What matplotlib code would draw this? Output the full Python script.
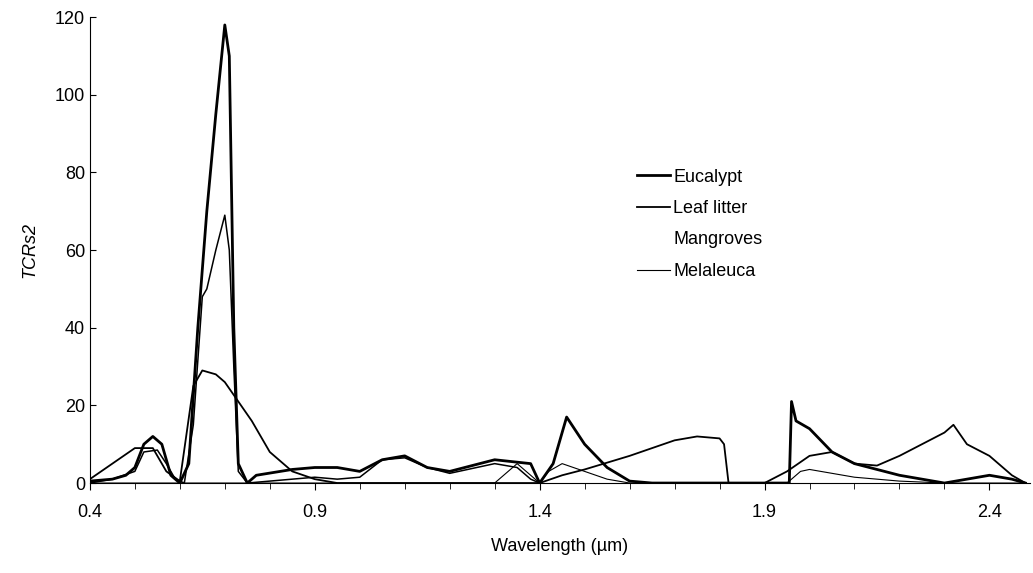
import numpy as np
import matplotlib.pyplot as plt
from matplotlib.lines import Line2D

plt.rcParams['font.family'] = ['Liberation Sans', 'DejaVu Sans']

euc_x = [0.4, 0.45, 0.48, 0.5, 0.52, 0.54, 0.56, 0.58, 0.6, 0.62, 0.64, 0.66, 0.68, 0.7, 0.71, 0.72, 0.73, 0.75,
         0.77, 0.85, 0.9, 0.95, 1.0, 1.05, 1.1, 1.15, 1.2, 1.3, 1.38, 1.4, 1.43, 1.46, 1.5, 1.55, 1.6, 1.65,
         1.9, 1.955, 1.96, 1.97, 2.0, 2.05, 2.1, 2.2, 2.3, 2.4, 2.45, 2.48]
euc_y = [0.5, 1, 2, 4, 10, 12, 10, 2, 0, 5, 40, 70, 95, 118, 110, 40, 5, 0,
         2, 3.5, 4, 4, 3, 6, 7, 4, 3, 6, 5, 0, 5, 17, 10, 4, 0.5, 0,
         0, 0, 21, 16, 14, 8, 5, 2, 0, 2, 1, 0]

lit_x = [0.4, 0.45, 0.5, 0.54, 0.57, 0.6, 0.63, 0.65, 0.68, 0.7, 0.73, 0.76, 0.8, 0.85, 0.9, 0.95,
         1.4, 1.45, 1.5, 1.6, 1.7, 1.75, 1.8, 1.81, 1.82, 1.9, 1.95, 2.0, 2.05, 2.1, 2.15, 2.2, 2.25, 2.3,
         2.32, 2.35, 2.4, 2.45, 2.48]
lit_y = [1, 5, 9, 9, 3, 0.5, 25, 29, 28, 26, 21, 16, 8, 3, 1, 0,
         0, 2, 3.5, 7, 11, 12, 11.5, 10, 0, 0, 3, 7, 8, 5, 4.5, 7, 10, 13,
         15, 10, 7, 2, 0]

man_x = [0.4, 0.45, 0.5, 0.52, 0.55, 0.57, 0.59, 0.61, 0.63, 0.65, 0.66, 0.68, 0.7, 0.71, 0.72, 0.73, 0.75,
         0.8, 0.9, 0.95, 1.0, 1.05, 1.1, 1.15, 1.2, 1.3, 1.35, 1.38, 1.4]
man_y = [0, 1, 3, 8, 8.5, 5, 1, 0, 15, 48, 50, 60, 69, 60, 30, 3, 0,
         0.5, 1.5, 1, 1.5, 6, 6.5, 4, 2.5, 5, 4, 1, 0]

mel_x = [0.4, 1.3, 1.35, 1.38, 1.4, 1.42, 1.45, 1.5, 1.55, 1.6, 1.95, 1.98, 2.0, 2.1, 2.2, 2.3, 2.45, 2.48]
mel_y = [0, 0, 5, 2, 0, 3, 5, 3, 1, 0, 0, 3, 3.5, 1.5, 0.5, 0, 0, 0]

fig = plt.figure(figsize=(10.33, 5.73), dpi=100)
ax = fig.add_axes([0.087, 0.157, 0.91, 0.813])
ax.plot(euc_x, euc_y, color='black', lw=2.0)
ax.plot(lit_x, lit_y, color='black', lw=1.3)
ax.plot(man_x, man_y, color='black', lw=1.1)
ax.plot(mel_x, mel_y, color='black', lw=0.8)

ax.set_xlim(0.4, 2.49)
ax.set_ylim(0, 120)
ax.set_xticks([0.4, 0.9, 1.4, 1.9, 2.4])
ax.set_xticks(np.arange(0.4, 2.45, 0.1), minor=True)
ax.set_yticks(range(0, 121, 20))
ax.tick_params(axis='x', direction='out', length=5, labelsize=13, pad=10)
ax.tick_params(axis='x', which='minor', direction='out', length=4)
ax.tick_params(axis='y', direction='in', length=4, labelsize=13)
ax.spines['top'].set_visible(False)
ax.spines['right'].set_visible(False)
ax.set_xlabel('Wavelength (µm)', fontsize=13, labelpad=12)
ax.set_ylabel('TCRs2', fontsize=13, style='italic', labelpad=12)

handles = [Line2D([], [], color='black', lw=2.0),
           Line2D([], [], color='black', lw=1.3),
           Line2D([], [], color='white', lw=1.0),
           Line2D([], [], color='black', lw=0.8)]
ax.legend(handles, ['Eucalypt', 'Leaf litter', 'Mangroves', 'Melaleuca'],
          loc='upper left', bbox_to_anchor=(0.565, 0.71), frameon=False, fontsize=13,
          handlelength=1.8, handletextpad=0.2, labelspacing=0.8)

fig.savefig('out.png')
